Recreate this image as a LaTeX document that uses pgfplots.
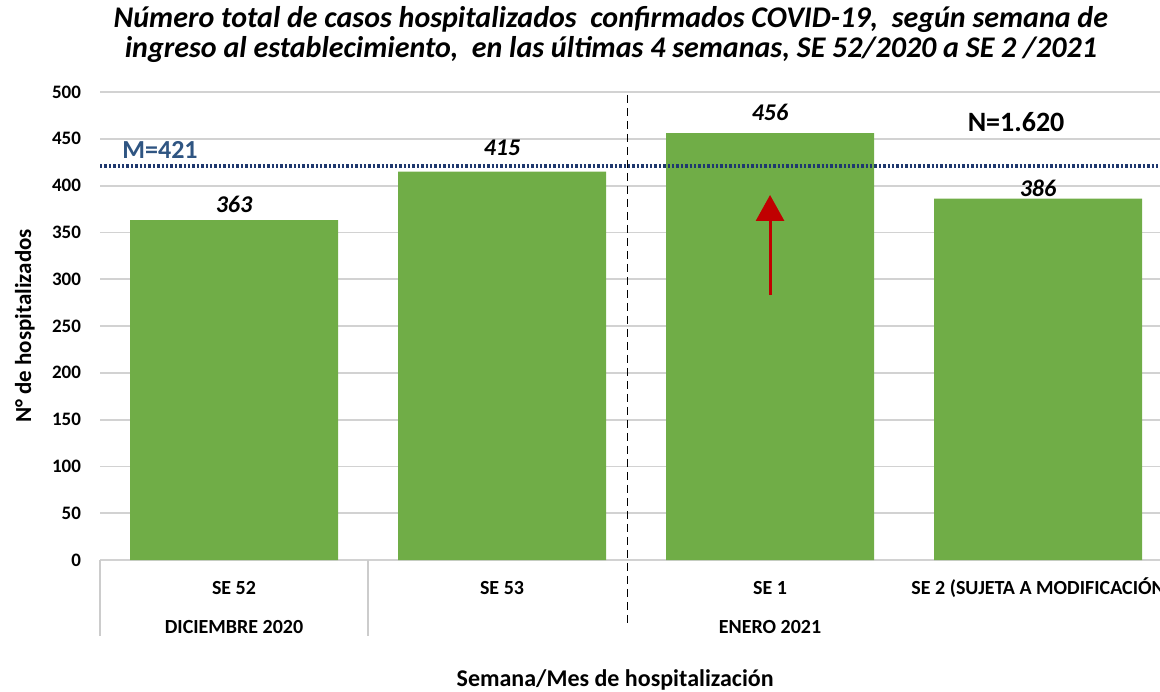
\documentclass[border=0pt]{standalone}
\usepackage{fontspec}
\setmainfont{Carlito}
\usepackage{pgfplots}
\usepackage{pgfplotstable}
\pgfplotsset{compat=1.18}
\usetikzlibrary{arrows.meta}
\definecolor{barverde}{RGB}{112,173,71}
\definecolor{mlinea}{RGB}{31,56,110}
\definecolor{mtexto}{RGB}{47,85,130}
\definecolor{flecha}{RGB}{192,0,0}
% x = posicion de la semana, dy = ajuste de la etiqueta (pt)
\pgfplotstableread{
x y dy
0 363 1.5
1 415 6
2 456 4
3 386 -1
}\hospitalizados
\begin{document}
\begin{tikzpicture}
\path[use as bounding box] (-50pt,-65.5pt) rectangle (530pt,280pt);
\begin{axis}[
  at={(0,0)}, anchor=south west,
  scale only axis, width=530pt, height=234pt,
  xmin=-0.5, xmax=3.455, ymin=0, ymax=500,
  ytick={0,50,...,500},
  xtick={0,1,2,3},
  xticklabels={SE 52, SE 53, SE 1, SE 2 (SUJETA A MODIFICACIÓN},
  axis line style={draw=none},
  major tick length=0pt,
  ymajorgrids, grid style={draw=gray!35, line width=0.9pt},
  clip=false,
  /pgf/number format/assume math mode=true,
  yticklabel style={font=\fontsize{9.5}{11}\selectfont\bfseries, xshift=-6pt},
  xticklabel style={font=\fontsize{10}{12}\selectfont\bfseries, anchor=base, yshift=-17pt},
  ylabel={N° de hospitalizados},
  ylabel style={font=\fontsize{11.5}{13}\selectfont\bfseries, at={(axis description cs:-0.0708,0.5)}, anchor=center},
  xlabel={Semana/Mes de hospitalización},
  xlabel style={font=\fontsize{12}{14}\selectfont\bfseries, at={(axis description cs:0.486,0)}, yshift=-60pt, anchor=center},
]
\addplot[ybar, bar width=104pt, bar shift=0pt, fill=barverde, draw=none,
  nodes near coords,
  visualization depends on={\thisrow{dy} \as \dy},
  every node near coord/.append style={font=\fontsize{12}{14}\selectfont\bfseries\itshape, text=black, inner sep=2pt, yshift=\dy pt}]
  table[x=x, y=y] {\hospitalizados};
\addplot[draw=mlinea, line width=1.8pt, dash pattern=on 1.2pt off 1.0pt, sharp plot, forget plot]
  coordinates {(-0.5,421) (3.455,421)};
% separadores de categorias
\draw[gray!40, line width=0.8pt] (axis cs:-0.5,0) -- ([yshift=-38pt]axis cs:-0.5,0);
\draw[gray!40, line width=0.8pt] (axis cs:0.5,0) -- ([yshift=-38pt]axis cs:0.5,0);
\draw[black, line width=0.5pt, dash pattern=on 4pt off 2.5pt] (axis cs:1.47,497) -- ([yshift=-32.5pt]axis cs:1.47,0);
% meses
\node[font=\fontsize{10}{12}\selectfont\bfseries, anchor=base] at ([yshift=-36.8pt]axis cs:0,0) {DICIEMBRE 2020};
\node[font=\fontsize{10}{12}\selectfont\bfseries, anchor=base] at ([yshift=-36.8pt]axis cs:2,0) {ENERO 2021};
% anotaciones
\node[font=\fontsize{13}{15}\selectfont\bfseries, text=mtexto] at (axis cs:-0.276,438) {M=421};
\node[font=\fontsize{14}{16}\selectfont\bfseries] at (axis cs:2.918,468) {N=1.620};
\draw[flecha, line width=1.5pt, -{Triangle[width=14pt,length=13pt]}] (axis cs:2,283) -- (axis cs:2,390);
\node[font=\fontsize{15}{15}\selectfont\bfseries\itshape, align=center] at ([yshift=29pt]axis description cs:0.482,1)
  {Número total de casos hospitalizados\ \ confirmados COVID-19,\ \ según semana de\\ingreso al establecimiento,\ \ en las últimas 4 semanas, SE 52/2020 a SE 2 /2021};
\end{axis}
\end{tikzpicture}
\end{document}
